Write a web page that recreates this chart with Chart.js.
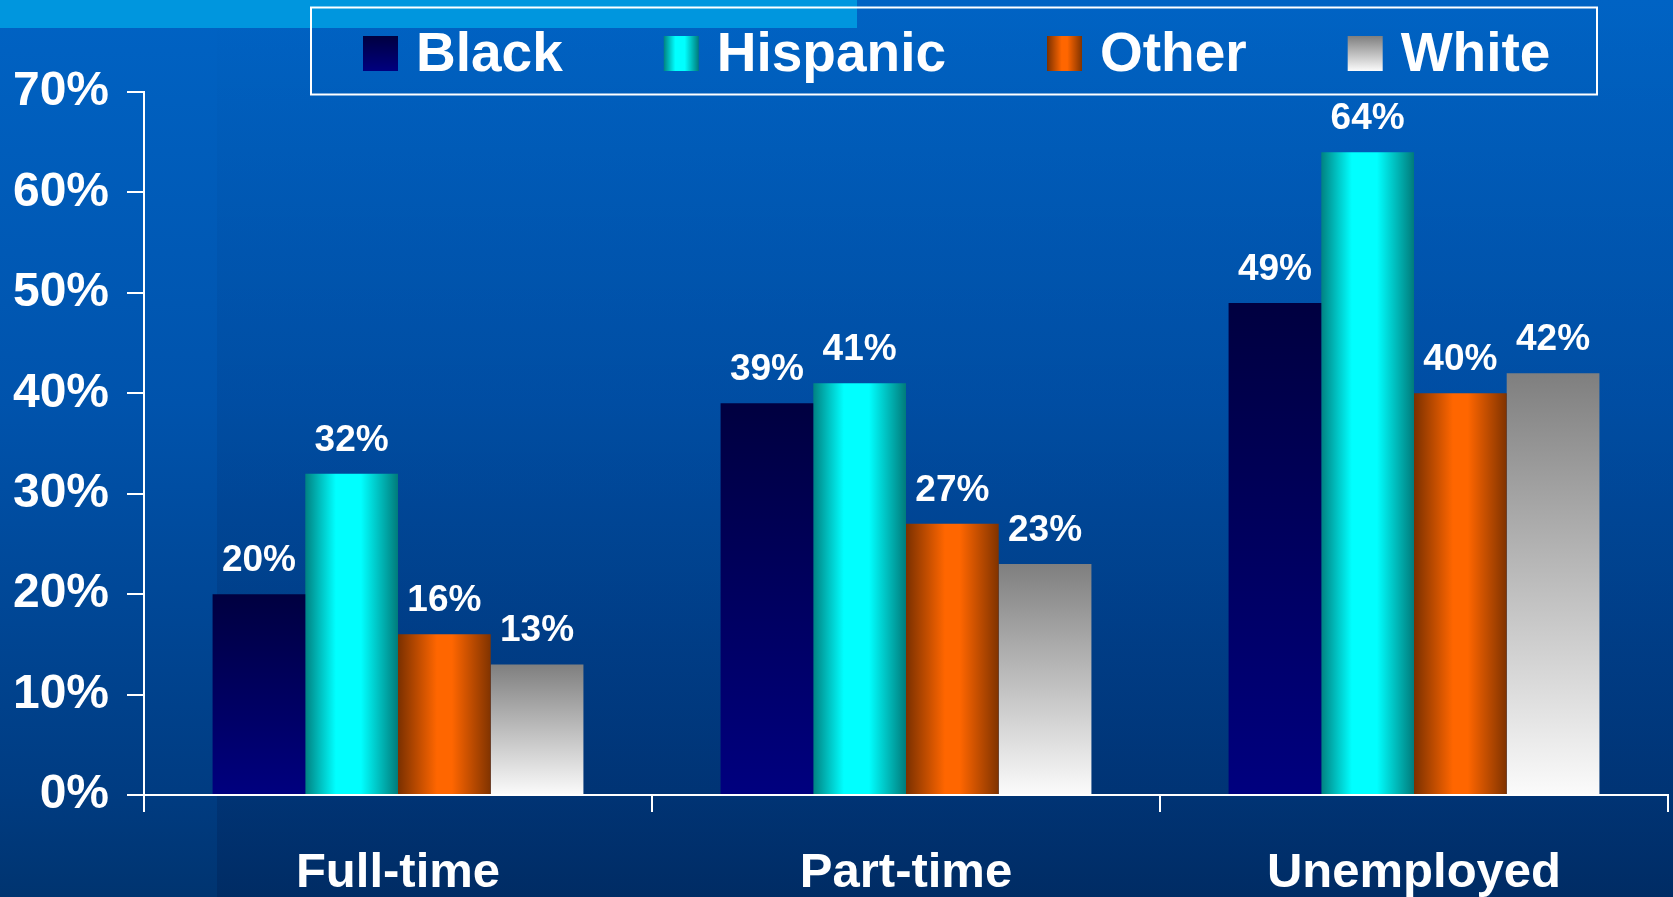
<!DOCTYPE html>
<html>
<head>
<meta charset="utf-8">
<title>Employment status by group</title>
<script src="https://cdn.jsdelivr.net/npm/chart.js@4.4.1/dist/chart.umd.min.js"></script>
<style>
  html, body { margin: 0; padding: 0; background: #004c9e; overflow: hidden; }
  canvas { display: block; }
</style>
</head>
<body>
<canvas id="employmentChart" width="1673" height="897"></canvas>
<script>
// values in percent, one array per group, in category order
const categories = ['Full-time', 'Part-time', 'Unemployed'];
const groups = ['Black', 'Hispanic', 'Other', 'White'];
const blackValues = [20, 39, 49];
const hispanicValues = [32, 41, 64];
const otherValues = [16, 27, 40];
const whiteValues = [13, 23, 42];
const yTicks = [0, 10, 20, 30, 40, 50, 60, 70];

const FONT = "'Liberation Sans', Arial, sans-serif";
const CAT_PCT = 0.73;

// 'v' gradients run from bar top to base, 'h' ones run across the bar
const fills = [
  { dir: 'v', stops: [[0, '#000040'], [1, '#00007f']] },
  { dir: 'h', stops: [[0, '#008282'], [0.33, '#00ffff'], [0.6, '#00ffff'], [1, '#007b7b']] },
  { dir: 'h', stops: [[0, '#7a3000'], [0.42, '#ff6600'], [0.58, '#ff6600'], [1, '#803300']] },
  { dir: 'v', stops: [[0, '#7f7f7f'], [1, '#fbfbfb']] }
];

function makeGradient(ctx, fill, x0, y0, x1, y1) {
  const g = fill.dir === 'v'
    ? ctx.createLinearGradient(0, y0, 0, y1)
    : ctx.createLinearGradient(x0, 0, x1, 0);
  fill.stops.forEach(([o, c]) => g.addColorStop(o, c));
  return g;
}

// work out the bar rectangle from the scales so each bar gets its own gradient
function barFill(c) {
  const chart = c.chart;
  const fill = fills[c.datasetIndex];
  const plain = fill.stops[1][1];
  const xs = chart.scales.x, ys = chart.scales.y;
  if (!xs || !ys || c.dataIndex === undefined) return plain;
  const catW = xs.width / chart.data.labels.length;
  const barW = catW * CAT_PCT / chart.data.datasets.length;
  const left = xs.getPixelForValue(c.dataIndex) - catW * CAT_PCT / 2 + c.datasetIndex * barW;
  const top = ys.getPixelForValue(c.raw);
  const base = ys.getPixelForValue(0);
  if (![left, barW, top, base].every(Number.isFinite) || barW <= 0 || base === top) return plain;
  return makeGradient(chart.ctx, fill, left, top, left + barW, base);
}

const slideBackground = {
  id: 'slideBackground',
  beforeDraw(chart) {
    const { ctx, width, height } = chart;
    ctx.save();
    const bg = ctx.createLinearGradient(0, 0, 0, height);
    bg.addColorStop(0, '#0063c4');
    bg.addColorStop(0.45, '#0053ac');
    bg.addColorStop(0.88, '#003c82');
    bg.addColorStop(1, '#003470');
    ctx.fillStyle = bg;
    ctx.fillRect(0, 0, width, height);
    // slightly darker panel behind the plot
    const shade = ctx.createLinearGradient(0, 0, 0, height);
    shade.addColorStop(0, 'rgba(0,0,40,0)');
    shade.addColorStop(1, 'rgba(0,0,40,0.16)');
    ctx.fillStyle = shade;
    ctx.fillRect(217, 0, width - 217, height);
    // light strip at the top
    ctx.fillStyle = '#0096de';
    ctx.fillRect(0, 0, 857, 28);
    ctx.restore();
  }
};

const valueLabels = {
  id: 'valueLabels',
  afterDatasetsDraw(chart) {
    const ctx = chart.ctx;
    ctx.save();
    ctx.fillStyle = '#fff';
    ctx.font = `bold 37px ${FONT}`;
    ctx.textAlign = 'center';
    ctx.textBaseline = 'alphabetic';
    chart.data.datasets.forEach((ds, i) => {
      chart.getDatasetMeta(i).data.forEach((bar, j) => {
        ctx.fillText(ds.data[j] + '%', bar.x, bar.y - 23);
      });
    });
    ctx.restore();
  }
};

const boxLegend = {
  id: 'boxLegend',
  afterDraw(chart) {
    const ctx = chart.ctx;
    ctx.save();
    ctx.strokeStyle = '#fff';
    ctx.lineWidth = 2;
    ctx.strokeRect(311, 7.5, 1286, 87);
    ctx.font = `bold 55px ${FONT}`;
    ctx.textBaseline = 'alphabetic';
    let x = 363;
    chart.data.datasets.forEach((ds, i) => {
      ctx.fillStyle = makeGradient(ctx, fills[i], x, 36, x + 35, 71);
      ctx.fillRect(x, 36, 35, 35);
      ctx.fillStyle = '#fff';
      ctx.fillText(ds.label, x + 53, 71);
      x += 53 + ctx.measureText(ds.label).width + 101;
    });
    ctx.restore();
  }
};

const seriesValues = [blackValues, hispanicValues, otherValues, whiteValues];

new Chart(document.getElementById('employmentChart'), {
  type: 'bar',
  data: {
    labels: categories,
    datasets: groups.map((g, i) => ({
      label: g,
      data: seriesValues[i],
      backgroundColor: barFill,
      borderWidth: 0,
      barPercentage: 1,
      categoryPercentage: CAT_PCT
    }))
  },
  options: {
    responsive: false,
    devicePixelRatio: 1,
    animation: false,
    layout: { padding: { top: 92, right: 5, bottom: 0, left: 0 } },
    plugins: {
      legend: { display: false },
      tooltip: { enabled: false }
    },
    scales: {
      x: {
        offset: true,
        grid: { drawOnChartArea: false, drawTicks: true, tickLength: 17, color: '#ffffff', lineWidth: 2, offset: true },
        border: { display: true, color: '#ffffff', width: 2 },
        ticks: {
          color: '#ffffff',
          font: { family: FONT, size: 49, weight: 'bold' },
          padding: 32,
          maxRotation: 0,
          autoSkip: false
        },
        afterFit: s => { s.height = 102; }
      },
      y: {
        min: 0,
        max: 70,
        afterBuildTicks: s => { s.ticks = yTicks.map(v => ({ value: v })); },
        grid: { drawOnChartArea: false, tickLength: 17, color: '#ffffff', lineWidth: 2 },
        border: { display: true, color: '#ffffff', width: 2 },
        ticks: {
          color: '#ffffff',
          font: { family: FONT, size: 48, weight: 'bold' },
          padding: 18,
          callback: v => v + '%'
        },
        afterFit: s => { s.width = 144; }
      }
    }
  },
  plugins: [slideBackground, valueLabels, boxLegend]
});
</script>
</body>
</html>
